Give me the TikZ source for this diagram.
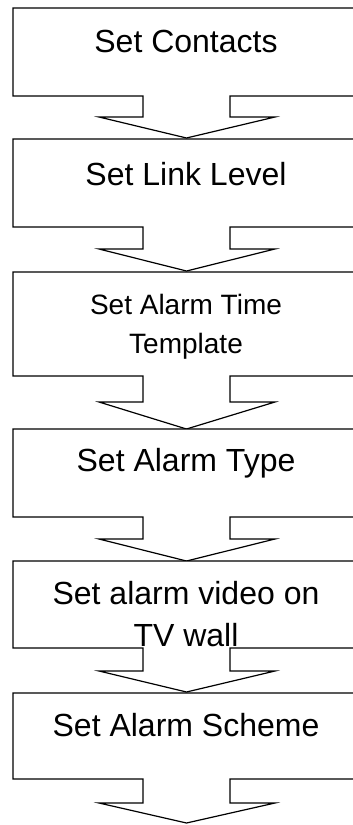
\documentclass[tikz,border=0pt]{standalone}
\usepackage{fontspec}
\setmainfont{Liberation Sans}
\begin{document}
\begin{tikzpicture}[x=1pt,y=-1pt,
  callout/.style={draw=black,line width=1.2pt,line join=miter,fill=white},
  lbl/.style={inner sep=0pt,anchor=base,align=center,font=\fontsize{32}{42}\selectfont},
  lblsmall/.style={lbl,font=\fontsize{28}{39}\selectfont}]
\useasboundingbox (0,0) rectangle (353,825);
\clip (0,0) rectangle (353,825);
% top, bottom, stem end, tip
\foreach \t/\b/\s/\p [count=\i] in {8/96/117/138,139/227/249/271,272/376/402/429,429/517/539/561,561/648/671/692,693/779/803/823}{
  \draw[callout] (13,\t) -- (362,\t) -- (362,\b) -- (230,\b) -- (230,\s) -- (275,\s)
    -- (186.5,\p) -- (99,\s) -- (143,\s) -- (143,\b) -- (13,\b) -- cycle;
}
\node[lbl] (t1) at (186,52) {Set Contacts};
\node[lbl] (t2) at (186,185) {Set Link Level};
\node[lblsmall] (t3) at (186,353) {Set Alarm Time\\Template};
\node[lbl] (t4) at (186,471) {Set Alarm Type};
\node[lbl] (t5) at (186,646) {Set alarm video on\\TV wall};
\node[lbl] (t6) at (186,736) {Set Alarm Scheme};
\end{tikzpicture}
\end{document}
